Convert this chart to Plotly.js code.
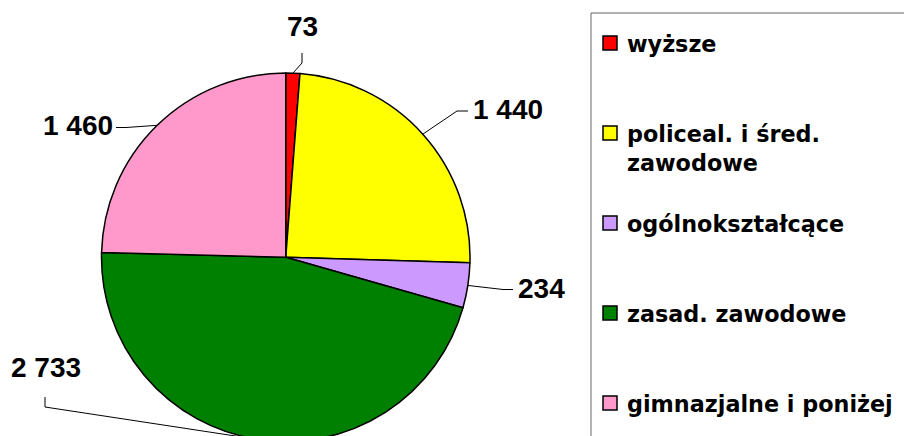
<!DOCTYPE html>
<html>
<head>
<meta charset="utf-8">
<script src="https://cdn.plot.ly/plotly-3.0.1.min.js"></script>
<style>
html,body{margin:0;padding:0;overflow:hidden;background:#fff;}
#chart{width:904px;height:460px;}
</style>
</head>
<body>
<div id="chart"></div>
<script>
// ---- data ----
const categories = ['wyższe', 'policeal. i śred.<br>zawodowe', 'ogólnokształcące', 'zasad. zawodowe', 'gimnazjalne i poniżej'];
const values = [73, 1440, 234, 2733, 1460];
const colors = ['#FF0000', '#FFFF00', '#CC99FF', '#008000', '#FF99CC'];

// ---- layout constants (pixels) ----
const W = 904, H = 460;
const cx = 285.75, cy = 257.3, R = 184.25;
const px = x => x / W;
const py = y => 1 - y / H;

// label placement (label centre, leader start, elbow) per slice
const labelPos = [
  {lx: 302, ly: 27, a: [302, 53], e: [302, 63]},
  {lx: 508, ly: 110, a: [468, 111], e: [457, 111]},
  {lx: 541.5, ly: 288, a: [513, 289.5], e: [503, 289.5]},
  {lx: 45.5, ly: 367, a: [45, 397], e: [45, 407]},
  {lx: 78, ly: 126, a: [116, 127.5], e: [126, 127.5]}
];

function fmt(v) { return String(v).replace(/\B(?=(\d{3})+(?!\d))/g, '\u00a0'); }

// legend labels padded with blank lines to mimic spacing
const legendLabels = categories.map((c, i) => {
  if (i === categories.length - 1) return c;
  const n = c.split('<br>').length;
  let s = c;
  for (let k = n; k < 3; k++) s += '<br> ';
  return s;
});

const total = values.reduce((a, b) => a + b, 0);
let cum = 0;
const annotations = [];
const shapes = [];
values.forEach((v, i) => {
  const mid = (cum + v / 2) / total * 2 * Math.PI;
  cum += v;
  const tx = cx + R * Math.sin(mid);
  const ty = cy - R * Math.cos(mid);
  const L = labelPos[i];
  annotations.push({
    x: px(L.lx), y: py(L.ly), xref: 'paper', yref: 'paper',
    text: fmt(v), showarrow: false, xanchor: 'center', yanchor: 'middle',
    font: {family: 'Liberation Sans, Arial, sans-serif', size: 28, color: '#000', weight: 'bold'}
  });
  shapes.push({
    type: 'path', xref: 'paper', yref: 'paper',
    path: `M${px(L.a[0])},${py(L.a[1])} L${px(L.e[0])},${py(L.e[1])} L${px(tx)},${py(ty)}`,
    line: {color: '#000', width: 1}
  });
});

// legend frame
shapes.push({
  type: 'rect', xref: 'paper', yref: 'paper',
  x0: px(591), x1: px(930), y0: py(13), y1: py(480),
  line: {color: '#666', width: 1}, fillcolor: 'rgba(0,0,0,0)'
});

const trace = {
  type: 'pie',
  labels: legendLabels,
  values: values,
  sort: false,
  direction: 'clockwise',
  rotation: 0,
  textinfo: 'none',
  hoverinfo: 'skip',
  marker: {colors: colors, line: {color: '#000', width: 1.5}},
  domain: {x: [px(cx - R), px(cx + R)], y: [py(cy + R), py(cy - R)]}
};

const layout = {
  width: W, height: H,
  margin: {l: 0, r: 0, t: 0, b: 0},
  paper_bgcolor: '#fff',
  showlegend: true,
  legend: {
    x: px(587), y: py(22), xanchor: 'left', yanchor: 'top',
    valign: 'top',
    font: {family: 'DejaVu Sans, sans-serif', size: 22.3, color: '#000', weight: 'bold'},
    bgcolor: 'rgba(0,0,0,0)', borderwidth: 0
  },
  annotations: annotations,
  shapes: shapes
};

Plotly.newPlot('chart', [trace], layout, {displayModeBar: false, staticPlot: true}).then(gd => {
  // slightly larger, outlined legend swatches as in the original
  gd.querySelectorAll('.legend .legendpoints path').forEach(p => {
    p.setAttribute('d', 'M10,7H-4V-7H10Z');
    p.style.stroke = '#000';
    p.style.strokeWidth = '1.5px';
  });
});
</script>
</body>
</html>
